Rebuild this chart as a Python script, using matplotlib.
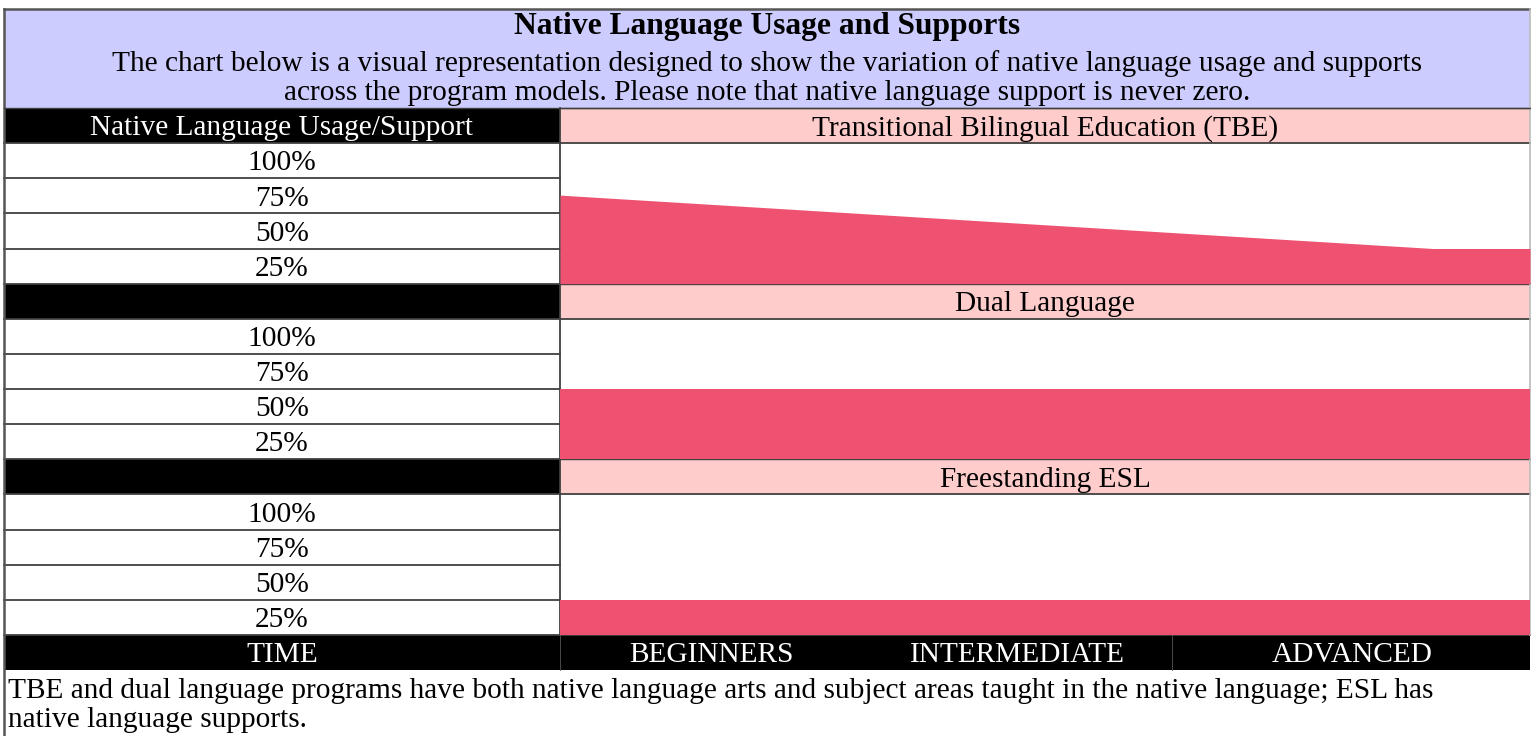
import matplotlib
matplotlib.use("Agg")
import matplotlib.pyplot as plt
from matplotlib.patches import Rectangle

plt.rcParams['font.family'] = ['Liberation Serif', 'DejaVu Serif']

# ---- data ----
title = "Native Language Usage and Supports"
subtitle = ["The chart below is a visual representation designed to show the variation of native language usage and supports",
            "across the program models. Please note that native language support is never zero."]
programs = ["Transitional Bilingual Education (TBE)", "Dual Language", "Freestanding ESL"]
level_labels = ["100%", "75%", "50%", "25%"]
time_labels = ["BEGINNERS", "INTERMEDIATE", "ADVANCED"]
footer = ["TBE and dual language programs have both native language arts and subject areas taught in the native language; ESL has",
          "native language supports."]
tbe_time = [0, 9, 10]
tbe_usage = [63, 25, 25]
dual_time = [0, 10]
dual_usage = [50, 50]
esl_time = [0, 10]
esl_usage = [25, 25]

# ---- styles ----
W, H = 1531, 736
FILL = '#EE5270'
PINK = '#FFCCCC'
LAV = '#CCCCFF'
LINE = '#404040'
FS = 21.2
EM = FS * 100 / 72
OFF = 0.33 * EM

fig = plt.figure(figsize=(W / 100, H / 100), dpi=100)
bg = fig.add_axes([0, 0, 1, 1])
bg.set_xlim(0, W)
bg.set_ylim(H, 0)
bg.axis('off')

XL, XM, XR = 4, 560, 1530
TOP = 9
r0 = 108
rh = (670 - 108) / 16
rows = [r0 + i * rh for i in range(17)]


def label(x, yc, s, **kw):
    kw.setdefault('fontsize', FS)
    kw.setdefault('ha', 'center')
    bg.text(x, yc + OFF, s, va='baseline', **kw)


# header
bg.add_patch(Rectangle((XL, TOP), XR - XL, r0 - TOP, fc=LAV, ec='none'))
bg.text((XL + XR) / 2, 34, title, ha='center', va='baseline', fontsize=22.7, fontweight='bold')
label((XL + XR) / 2, 61, subtitle[0])
label((XL + XR) / 2, 90, subtitle[1])

# program blocks
series = [(tbe_time, tbe_usage), (dual_time, dual_usage), (esl_time, esl_usage)]
for b in range(3):
    hr = b * 5
    ytop, ybot = rows[hr], rows[hr + 1]
    bg.add_patch(Rectangle((XL, ytop), XM - XL, ybot - ytop, fc='black', ec='none'))
    bg.add_patch(Rectangle((XM, ytop), XR - XM, ybot - ytop, fc=PINK, ec='none'))
    label((XM + XR) / 2, (ytop + ybot) / 2, programs[b])
    if b == 0:
        label((XL + XM) / 2, (ytop + ybot) / 2, "Native Language Usage/Support", color='white')
    for k, lab in enumerate(level_labels):
        y0, y1 = rows[hr + 1 + k], rows[hr + 2 + k]
        label((XL + XM) / 2, (y0 + y1) / 2, lab)
    for k in range(5):
        y = rows[hr + 1 + k]
        bg.plot([XL, XM], [y, y], color=LINE, lw=1.3, zorder=5)
    for y in (rows[hr + 1], rows[hr + 5]):
        bg.plot([XM, XR], [y, y], color=LINE, lw=1.3, zorder=5)
    bg.plot([XM, XR], [ytop, ytop], color=LINE, lw=1.0, zorder=5)
    # panel axes for data
    pt, pb = rows[hr + 1], rows[hr + 5]
    ax = fig.add_axes([XM / W, 1 - pb / H, (XR - XM) / W, (pb - pt) / H])
    ax.set_xlim(0, 10)
    ax.set_ylim(0, 100)
    ax.axis('off')
    t, u = series[b]
    ax.fill_between(t, u, 0, color=FILL, lw=0)

# vertical divider
bg.plot([XM, XM], [r0, rows[15]], color=LINE, lw=1.3, zorder=6)

# time row
bg.add_patch(Rectangle((XL, rows[15]), XR - XL, rows[16] - rows[15], fc='black', ec='none', zorder=4))
ymid = (rows[15] + rows[16]) / 2
label((XL + XM) / 2, ymid, "TIME", color='white', zorder=7)
for x, lab in zip([711, 1017, 1352], time_labels):
    label(x, ymid, lab, color='white', zorder=7)
for x in (XM, 1172):
    bg.plot([x, x], [rows[15], rows[16]], color='#555555', lw=0.6, zorder=6)

# footer
label(8, 688, footer[0], ha='left')
label(8, 717, footer[1], ha='left')

# outer borders
bg.plot([XL, XR], [TOP, TOP], color='#555555', lw=1.8, zorder=8)
bg.plot([XL, XL], [TOP, H], color='#555555', lw=1.8, zorder=8)
bg.plot([XR, XR], [TOP, rows[15]], color='#BBBBBB', lw=1.2, zorder=8)
bg.plot([XL, XR], [r0, r0], color=LINE, lw=1.0, zorder=8)

fig.savefig("out.png", dpi=100)
